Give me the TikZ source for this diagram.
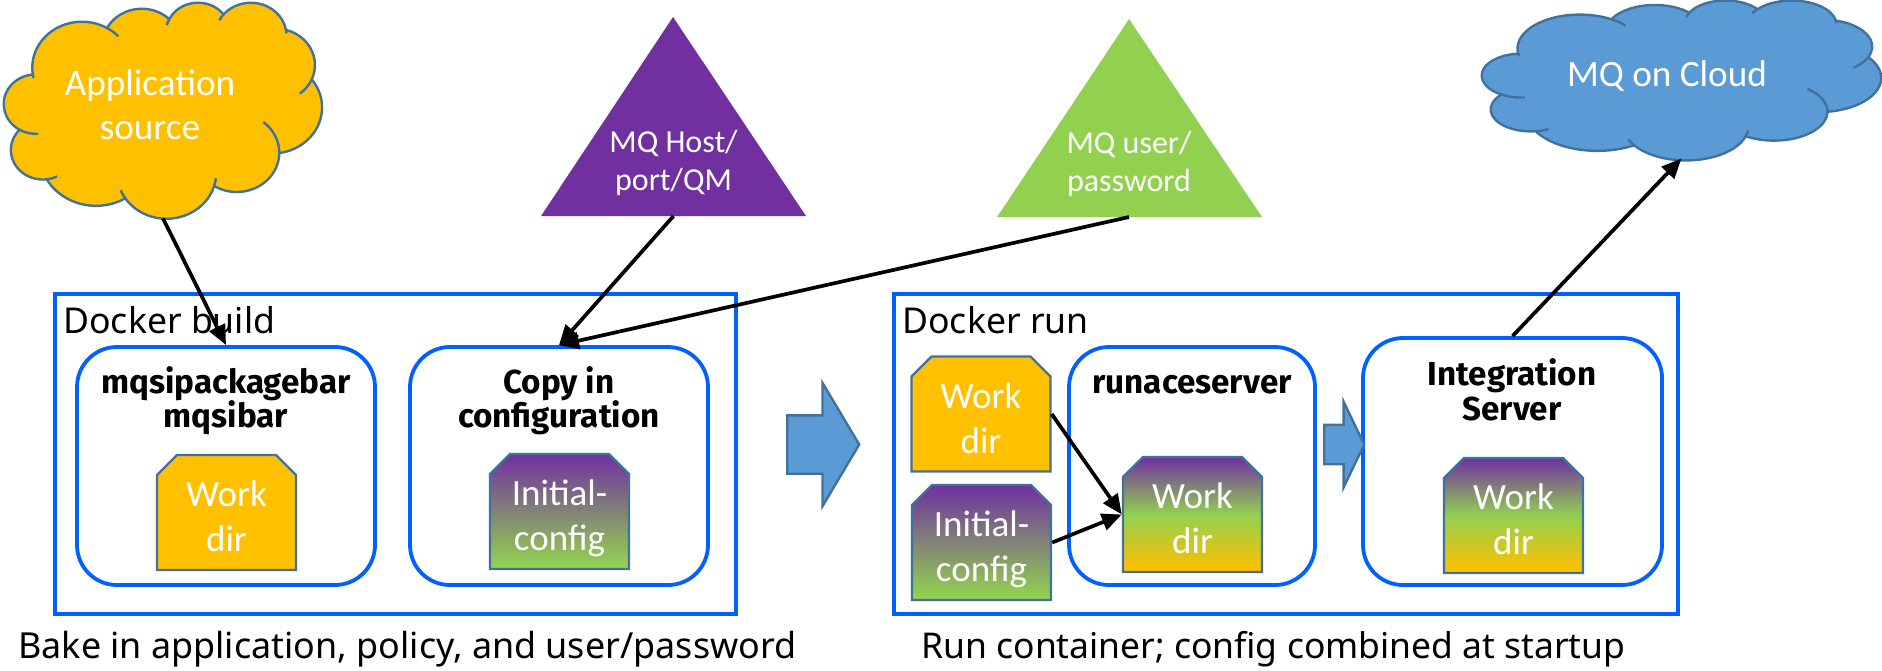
\documentclass[tikz,border=0pt]{standalone}
\usepackage{fontspec}
\setmainfont{Carlito}
\newfontfamily\plexfont{Noto Sans}
\newfontfamily\plexbold{Fira Sans}
\usetikzlibrary{shapes.misc,shapes.arrows,arrows.meta}

\definecolor{boxblue}{HTML}{0061FF}
\definecolor{edgeblue}{HTML}{41719C}
\definecolor{cloudblue}{HTML}{5B9BD5}
\definecolor{dirgold}{HTML}{FFC000}
\definecolor{mqpurple}{HTML}{7030A0}
\definecolor{mqgreen}{HTML}{92D050}

\pgfdeclareverticalshading{initshade}{100bp}{color(0bp)=(mqgreen); color(27bp)=(mqgreen); color(75bp)=(mqpurple); color(100bp)=(mqpurple)}
\pgfdeclareverticalshading{workshade}{100bp}{color(0bp)=(dirgold); color(26bp)=(dirgold); color(50bp)=(mqgreen); color(75bp)=(mqpurple); color(100bp)=(mqpurple)}

\newcommand{\cloudarc}[4]{arc[start angle={atan2(#1*sin(#3),#2*cos(#3))},delta angle={mod(atan2(#1*sin((#3)+(#4)),#2*cos((#3)+(#4)))-atan2(#1*sin(#3),#2*cos(#3))+720,360)},x radius=#1,y radius=#2]}
\newcommand{\cloudback}[4]{arc[start angle={atan2(#1*sin(#3),#2*cos(#3))},delta angle={mod(atan2(#1*sin((#3)-(#4)),#2*cos((#3)-(#4)))-atan2(#1*sin(#3),#2*cos(#3))+720,360)-360},x radius=#1,y radius=#2]}
\newcommand{\drawcloud}[5]{%
  \begin{scope}[shift={(#1,#2)},x=#3,y=#4]
    \draw[cloudline,fill=#5] (39,143.7) coordinate (c1)
      \cloudarc{67.53}{91.90}{-190.4875}{123.7805} coordinate (c2)
      \cloudarc{53.33}{72.67}{-144.1024}{89.9452} coordinate (c3)
      \cloudarc{43.65}{59.45}{-145.8079}{99.7230} coordinate (c4)
      \cloudarc{48.57}{65.95}{-130.9861}{117.2417} coordinate (c5)
      \cloudarc{53.33}{72.73}{-78.7089}{109.0269} coordinate (c6)
      \cloudarc{67.75}{92.20}{-46.2673}{130.2690} coordinate (c7)
      \cloudarc{57.85}{78.67}{0.625}{114.0333} coordinate (c8)
      \cloudarc{67.52}{92.15}{22.4516}{115.1726} coordinate (c9)
      \cloudarc{77.20}{105.43}{66.2426}{75.7110} coordinate (c10)
      \cloudarc{43.60}{59.18}{-274.9421}{146.7356} coordinate (c11)
      \cloudarc{43.45}{59.45}{-246.8285}{152.5303} -- cycle;
    \draw[cloudline] (c1) \cloudback{67.53}{91.90}{-190.4875}{7};
    \draw[cloudline] (c2) \cloudarc{67.53}{91.90}{-66.707}{15};
    \draw[cloudline] (c3) \cloudback{43.65}{59.45}{-145.8079}{15};
    \draw[cloudline] (c4) \cloudback{48.57}{65.95}{-130.9861}{13};
    \draw[cloudline] (c5) \cloudarc{48.57}{65.95}{-13.7444}{8};
    \draw[cloudline] (c6) \cloudarc{53.33}{72.73}{30.318}{30};
    \draw[cloudline] (c7) \cloudback{57.85}{78.67}{0.625}{60};
    \draw[cloudline] (c8) \cloudback{67.52}{92.15}{22.4516}{13};
    \draw[cloudline] (c9) \cloudarc{67.52}{92.15}{137.6242}{13};
    \draw[cloudline] (c10) \cloudback{43.60}{59.18}{-274.9421}{15};
    \draw[cloudline] (c11) \cloudback{43.45}{59.45}{-246.8285}{26.4};
  \end{scope}}

\tikzset{
  cloudline/.style={edgeblue,line width=1.2pt},
  outerbox/.style={draw=boxblue,line width=1.9pt,rectangle,inner sep=0},
  innerbox/.style={draw=boxblue,line width=1.9pt,rectangle,rounded corners=20pt,minimum height=119pt,inner sep=0},
  dirbox/.style={chamfered rectangle,chamfered rectangle corners={north west,north east},chamfered rectangle xsep=5pt,chamfered rectangle ysep=5pt,draw=edgeblue,line width=1.2pt,minimum width=69.5pt,minimum height=57.5pt,inner sep=0,text=white,align=center,text height=39pt,text depth=0pt,font=\fontsize{18.5}{22.3}\selectfont},
  goldfill/.style={fill=dirgold},
  initfill/.style={shading=initshade},
  workfill/.style={shading=workshade},
  blockarrow/.style={single arrow,draw=edgeblue,fill=cloudblue,line width=1.2pt,inner xsep=0,anchor=tail},
  whitetext/.style={text=white,align=center,font=\fontsize{18.6}{22}\selectfont},
  tritext/.style={text=white,align=center,anchor=south,inner xsep=0,inner ysep=10pt,font=\fontsize{16}{19}\selectfont},
  plextext/.style={anchor=base west,inner sep=0,font=\plexfont\fontsize{17.8}{22}\selectfont},
  titletext/.style={align=center,inner sep=0,font=\plexbold\bfseries\fontsize{16.6}{17.2}\selectfont},
  conn/.style={line width=1.85pt,-{Triangle[length=10pt,width=8.5pt]}}
}

\begin{document}
\begin{tikzpicture}[x=0.5pt,y=-0.5pt]
    \useasboundingbox (0,0) rectangle (1882,670);

    \drawcloud{4}{2}{0.368pt}{-0.25pt}{dirgold}
    \node[minimum width=159pt,minimum height=108pt,inner sep=0] (appsrc) at (163,110) {};
    \node[whitetext] (apptext) at (150,105) {Application\\source};

    \drawcloud{1482}{0}{0.4618pt}{-0.185pt}{cloudblue}
    \node[minimum width=199.5pt,minimum height=79pt,inner sep=0] (mqcloud) at (1681.5,79) {};
    \node[whitetext] (cloudtext) at (1667,76) {MQ on Cloud};

    \fill[mqpurple] (541,216) -- (673,17) -- (806,216) -- cycle;
    \node[tritext] (mqhost) at (673.5,216) {MQ Host/\\port/QM};
    \fill[mqgreen] (997,217) -- (1129,19) -- (1262,217) -- cycle;
    \node[tritext] (mquser) at (1129,217) {MQ user/\\password};

    \node[outerbox,minimum width=340.5pt,minimum height=160pt] (build) at (395.5,454) {};
    \node[outerbox,minimum width=392pt,minimum height=160pt] (run) at (1286,454) {};
    \node[plextext] (buildlabel) at (63,333) {Docker build};
    \node[plextext] (runlabel) at (902,333) {Docker run};

    \node[innerbox,minimum width=149pt] (mqsi) at (226,466) {};
    \node[innerbox,minimum width=149pt] (copy) at (559,466) {};
    \node[innerbox,minimum width=123pt] (runace) at (1192,466) {};
    \node[innerbox,minimum width=149.5pt,minimum height=123.5pt] (integ) at (1512.5,461.5) {};

    \node[titletext] (mqsititle) at (226,401) {mqsipackagebar\\mqsibar};
    \node[titletext] (copytitle) at (559,401) {Copy in\\configuration};
    \node[titletext] (runacetitle) at (1192,385) {runaceserver};
    \node[titletext] (integtitle) at (1512,390) {Integration\\Server};

    \node[dirbox,goldfill] (work1) at (226.5,512.5) {Work\\dir};
    \node[dirbox,initfill] (init1) at (559.5,511.5) {Initial-\\config};
    \node[dirbox,goldfill] (work2) at (981,414) {Work\\dir};
    \node[dirbox,initfill] (init2) at (981.5,542.5) {Initial-\\config};
    \node[dirbox,workfill] (work3) at (1192.5,514.5) {Work\\dir};
    \node[dirbox,workfill] (work4) at (1513.5,515.5) {Work\\dir};

    \node[blockarrow,minimum height=36pt,minimum width=60.5pt,inner ysep=14pt,single arrow tip angle=118.5,single arrow head extend=16.25pt] (bigarrow) at (786,444.5) {};
    \node[blockarrow,minimum height=20pt,minimum width=41.5pt,inner ysep=9.25pt,single arrow tip angle=128.6,single arrow head extend=11.5pt] (smallarrow) at (1323,444.5) {};

    \draw[conn] (appsrc.south) -- (mqsi.north);
    \draw[conn] (mqhost.south) -- (copy.north);
    \draw[conn] (mquser.south) -- (copy.north);
    \draw[conn] (work2.east) -- (work3.west);
    \draw[conn] (init2.east) -- (work3.west);
    \draw[conn] (integ.north) -- (mqcloud.south);

    \node[plextext] (buildnote) at (18,658) {\fontsize{17.95}{22}\selectfont Bake in application, policy, and user/password};
    \node[plextext] (runnote) at (921,658) {\fontsize{17.74}{22}\selectfont Run container; config combined at startup};
  \end{tikzpicture}
\end{document}
